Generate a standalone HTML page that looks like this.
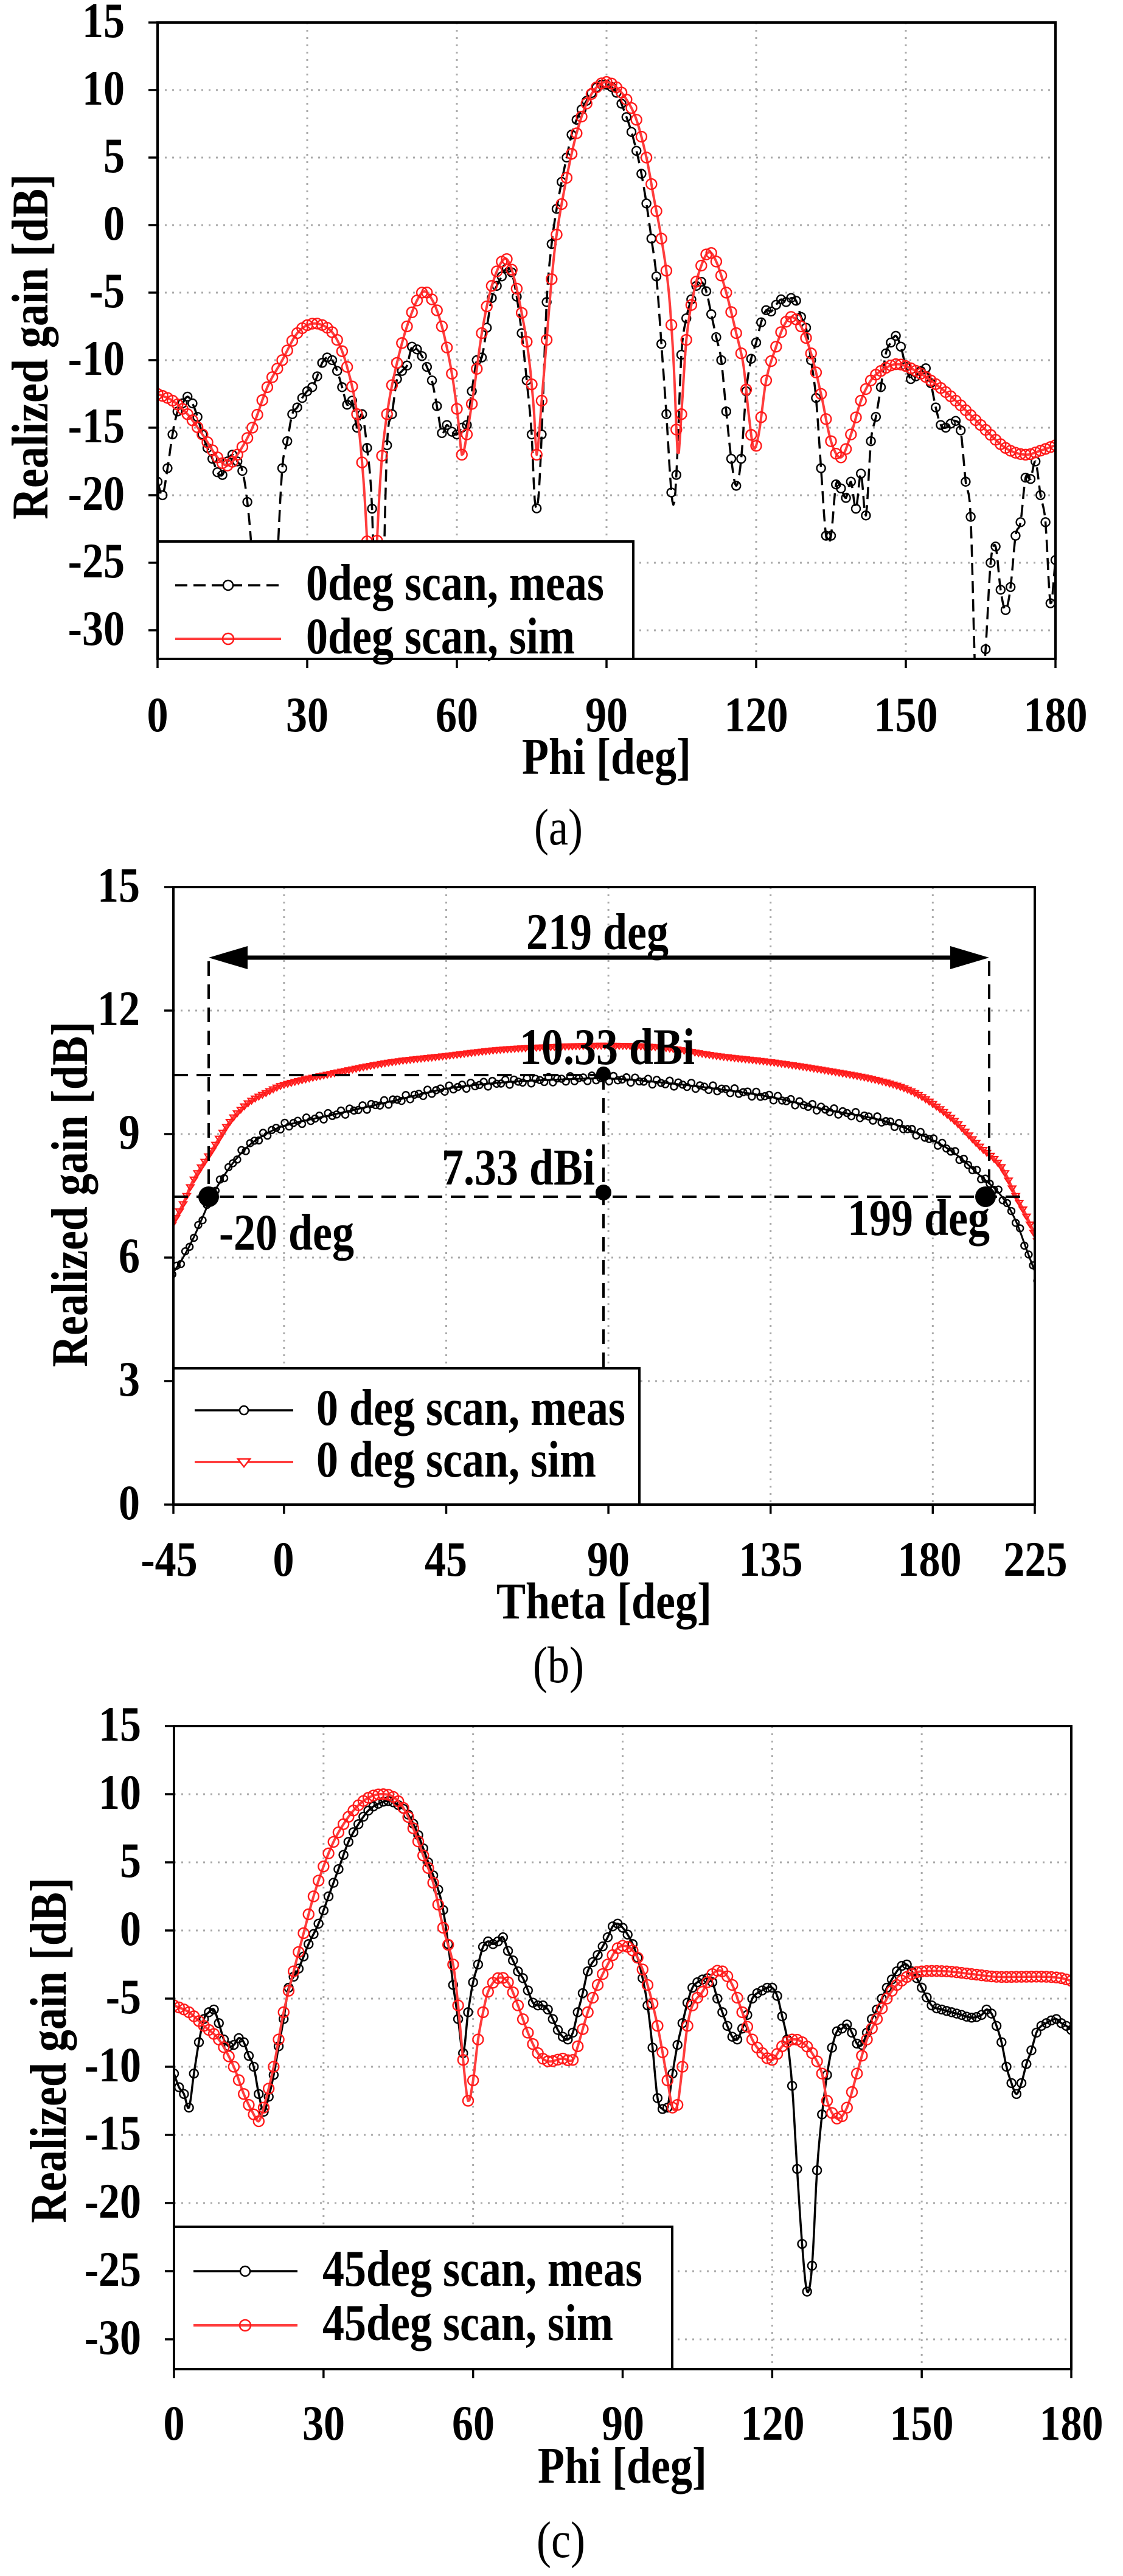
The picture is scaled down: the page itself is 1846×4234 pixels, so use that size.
<!DOCTYPE html>
<html><head><meta charset="utf-8">
<style>
html,body{margin:0;padding:0;background:#fff;}
svg{display:block;}
text{font-family:"Liberation Serif",serif;font-weight:bold;fill:#000;}
.t{font-size:70px;}
.lg{font-size:72px;}
.cap{font-weight:normal;font-size:72px;}
</style></head>
<body>
<svg id="s" width="1846" height="4234" viewBox="0 0 1846 4234" xmlns="http://www.w3.org/2000/svg">
<defs>
<clipPath id="ca"><rect x="259" y="37" width="1476" height="1046"/></clipPath>
<clipPath id="cb"><rect x="285" y="1458" width="1416" height="1015"/></clipPath>
<clipPath id="cc"><rect x="286" y="2837" width="1475" height="1057"/></clipPath>
</defs>
<g id="grid"></g>
<g id="curves"></g>
<g id="annot"></g>
<g id="frames"></g>

<!-- Chart (a) labels -->
<g class="t" text-anchor="end">
<text x="205" y="61">15</text><text x="205" y="172">10</text><text x="205" y="283">5</text>
<text x="205" y="394">0</text><text x="205" y="505">-5</text><text x="205" y="616">-10</text>
<text x="205" y="727">-15</text><text x="205" y="838">-20</text><text x="205" y="949">-25</text>
<text x="205" y="1060">-30</text>
</g>
<g class="t" text-anchor="middle">
<text x="259" y="1202">0</text><text x="505" y="1202">30</text><text x="751" y="1202">60</text>
<text x="997" y="1202">90</text><text x="1243" y="1202">120</text><text x="1489" y="1202">150</text>
<text x="1735" y="1202">180</text>
</g>
<text class="lg" x="997" y="1272" text-anchor="middle">Phi [deg]</text>
<text class="lg rot" x="78" y="570" text-anchor="middle" transform="rotate(-90 78 570)">Realized gain [dB]</text>
<text class="cap" x="918" y="1388" text-anchor="middle">(a)</text>

<!-- Chart (b) labels -->
<g class="t" text-anchor="end">
<text x="230" y="1482">15</text><text x="230" y="1685">12</text><text x="230" y="1888">9</text>
<text x="230" y="2091">6</text><text x="230" y="2294">3</text><text x="230" y="2497">0</text>
</g>
<g class="t" text-anchor="middle">
<text x="278" y="2590">-45</text><text x="466" y="2590">0</text><text x="733" y="2590">45</text>
<text x="1000" y="2590">90</text><text x="1267" y="2590">135</text><text x="1528" y="2590">180</text>
<text x="1702" y="2590">225</text>
</g>
<text class="lg" x="993" y="2660" text-anchor="middle">Theta [deg]</text>
<text class="lg rot" x="143" y="1963" text-anchor="middle" transform="rotate(-90 143 1963)">Realized gain [dB]</text>
<text class="cap" x="918" y="2765" text-anchor="middle">(b)</text>
<text class="lg" x="982" y="1560" text-anchor="middle">219 deg</text>
<text class="lg" x="998" y="1749" text-anchor="middle">10.33 dBi</text>
<text class="lg" x="978" y="1947" text-anchor="end">7.33 dBi</text>
<text class="lg" x="471" y="2054" text-anchor="middle">-20 deg</text>
<text class="lg" x="1510" y="2030" text-anchor="middle">199 deg</text>

<!-- Chart (c) labels -->
<g class="t" text-anchor="end">
<text x="232" y="2861">15</text><text x="232" y="2973">10</text><text x="232" y="3085">5</text>
<text x="232" y="3197">0</text><text x="232" y="3309">-5</text><text x="232" y="3421">-10</text>
<text x="232" y="3533">-15</text><text x="232" y="3645">-20</text><text x="232" y="3757">-25</text>
<text x="232" y="3869">-30</text>
</g>
<g class="t" text-anchor="middle">
<text x="286" y="4010">0</text><text x="532" y="4010">30</text><text x="778" y="4010">60</text>
<text x="1024" y="4010">90</text><text x="1270" y="4010">120</text><text x="1515" y="4010">150</text>
<text x="1761" y="4010">180</text>
</g>
<text class="lg" x="1023" y="4081" text-anchor="middle">Phi [deg]</text>
<text class="lg rot" x="108" y="3370" text-anchor="middle" transform="rotate(-90 108 3370)">Realized gain [dB]</text>
<text class="cap" x="922" y="4203" text-anchor="middle">(c)</text>

<!-- legends -->
<rect x="259" y="890" width="782" height="193" fill="#fff" stroke="#000" stroke-width="4"/>
<line x1="288" y1="962" x2="462" y2="962" stroke="#000" stroke-width="3.5" stroke-dasharray="20 10"/>
<circle cx="375" cy="962" r="8" fill="#fff" stroke="#000" stroke-width="2.5"/>
<line x1="288" y1="1050" x2="462" y2="1050" stroke="#ff3c3c" stroke-width="4"/>
<circle cx="375" cy="1050" r="9" fill="none" stroke="#ff1a1a" stroke-width="2.5"/>
<text class="lg" x="503" y="986">0deg scan, meas</text>
<text class="lg" x="503" y="1074">0deg scan, sim</text>

<rect x="285" y="2249" width="766" height="224" fill="#fff" stroke="#000" stroke-width="4"/>
<line x1="320" y1="2318" x2="482" y2="2318" stroke="#000" stroke-width="3.5"/>
<circle cx="401" cy="2318" r="7" fill="#fff" stroke="#000" stroke-width="2.5"/>
<line x1="320" y1="2403" x2="482" y2="2403" stroke="#ff3c3c" stroke-width="4"/>
<path d="M391,2398 L411,2398 L401,2411 Z" fill="#fff" stroke="#ff1a1a" stroke-width="2.5"/>
<text class="lg" x="520" y="2342">0 deg scan, meas</text>
<text class="lg" x="520" y="2427">0 deg scan, sim</text>

<rect x="286" y="3660" width="819" height="234" fill="#fff" stroke="#000" stroke-width="4"/>
<line x1="318" y1="3733" x2="489" y2="3733" stroke="#000" stroke-width="3.5"/>
<circle cx="403" cy="3733" r="8" fill="#fff" stroke="#000" stroke-width="2.5"/>
<line x1="318" y1="3822" x2="489" y2="3822" stroke="#ff3c3c" stroke-width="4"/>
<circle cx="403" cy="3822" r="9" fill="none" stroke="#ff1a1a" stroke-width="2.5"/>
<text class="lg" x="530" y="3757">45deg scan, meas</text>
<text class="lg" x="530" y="3846">45deg scan, sim</text>
</svg>
<script>
(function(){
var NS="http://www.w3.org/2000/svg";
// vertical stretch of all text (reference glyphs are taller)
var SY=1.17;
Array.prototype.forEach.call(document.querySelectorAll('text'),function(t){
  var x=t.getAttribute('x'),y=t.getAttribute('y');
  var pre=t.getAttribute('transform')||'';
  t.setAttribute('transform',pre+' translate('+x+' '+y+') scale(1 '+SY+') translate('+(-x)+' '+(-y)+')');
});
function el(parent,tag,attrs){var e=document.createElementNS(NS,tag);for(var k in attrs)e.setAttribute(k,attrs[k]);parent.appendChild(e);return e;}
function mk(arr){var p=[];for(var i=0;i<arr.length;i+=2)p.push([arr[i],arr[i+1]]);return p;}
function interp(P,x){
  if(x<=P[0][0])return P[0][1];var n=P.length;if(x>=P[n-1][0])return P[n-1][1];
  var i=0;while(i<n-2&&P[i+1][0]<x)i++;
  var p1=P[i],p2=P[i+1],p0=P[i-1]||p1,p3=P[i+2]||p2;
  var h=p2[0]-p1[0],t=(x-p1[0])/h;
  var m1=(p2[1]-p0[1])/(p2[0]-p0[0]||1)*h, m2=(p3[1]-p1[1])/(p3[0]-p1[0]||1)*h;
  var t2=t*t,t3=t2*t;
  return (2*t3-3*t2+1)*p1[1]+(t3-2*t2+t)*m1+(-2*t3+3*t2)*p2[1]+(t3-t2)*m2;
}
var grid=document.getElementById('grid'),cur=document.getElementById('curves'),ann=document.getElementById('annot'),fr=document.getElementById('frames');
function chart(c){
  var X=function(v){return c.L+(v-c.x0)/(c.x1-c.x0)*(c.R-c.L);};
  var Y=function(v){return c.B-(v-c.y0)/(c.y1-c.y0)*(c.B-c.T);};
  c.X=X;c.Y=Y;
  c.xt.forEach(function(v){var x=X(v);
    if(x>c.L+3&&x<c.R-3)el(grid,'line',{x1:x,y1:c.T,x2:x,y2:c.B,stroke:'#aaa','stroke-width':3,'stroke-dasharray':'3 9'});
    el(fr,'line',{x1:x,y1:c.B,x2:x,y2:c.B+15,stroke:'#000','stroke-width':3.5});});
  c.yt.forEach(function(v){var y=Y(v);
    if(y>c.T+3&&y<c.B-3)el(grid,'line',{x1:c.L,y1:y,x2:c.R,y2:y,stroke:'#aaa','stroke-width':3,'stroke-dasharray':'3 9'});
    el(fr,'line',{x1:c.L-15,y1:y,x2:c.L,y2:y,stroke:'#000','stroke-width':3.5});});
  if(c.xedge){c.xedge.forEach(function(x){el(fr,'line',{x1:x,y1:c.B,x2:x,y2:c.B+15,stroke:'#000','stroke-width':3.5});});}
  el(fr,'rect',{x:c.L,y:c.T,width:c.R-c.L,height:c.B-c.T,fill:'none',stroke:'#000','stroke-width':4});
  return c;
}
function series(c,P,o){
  var g=el(cur,'g',{'clip-path':'url(#'+c.clip+')'});
  var d='',st=o.step||0.25;
  for(var x=P[0][0];x<=P[P.length-1][0]+1e-9;x+=st){var v=interp(P,x);var yy=Math.max(Math.min(c.Y(v),c.B+200),c.T-200);d+=(d?'L':'M')+c.X(x).toFixed(1)+','+yy.toFixed(1);}
  el(g,'path',{d:d,fill:'none',stroke:o.color,'stroke-width':o.w,'stroke-dasharray':o.dash||'none','stroke-linejoin':'round'});
  for(var x=P[0][0];x<=P[P.length-1][0]+1e-9;x+=o.mstep){
    var v=interp(P,x)+(o.jit?(Math.sin(x*7.3)*o.jit):0),cx=c.X(x),cy=c.Y(v);
    if(cy<c.T-20||cy>c.B+20)continue;
    if(o.tri){var s=o.r;el(g,'path',{d:'M'+(cx-s)+','+(cy-s*0.6)+'L'+(cx+s)+','+(cy-s*0.6)+'L'+cx+','+(cy+s*0.9)+'Z',fill:'none',stroke:o.mcolor,'stroke-width':2.2});}
    else el(g,'circle',{cx:cx,cy:cy,r:o.r,fill:'none',stroke:o.mcolor,'stroke-width':2.4});
  }
}
// ---------- Chart A ----------
var A=chart({L:259,R:1735,T:37,B:1083,x0:0,x1:180,y0:-32.12,y1:15,clip:'ca',xt:[0,30,60,90,120,150,180],yt:[15,10,5,0,-5,-10,-15,-20,-25,-30]});
var aSim=mk([0,-12.5,3,-13,6,-14,9,-15.5,12,-17.2,14,-17.8,16,-17,19,-15,22,-12,25,-10,28,-8,31,-7.3,34,-7.6,36,-8.5,38,-10.5,40,-14,41.3,-19,42.2,-25,43,-33,43.8,-25,44.8,-18,46,-14,47.5,-11,50,-7.5,53,-5,55,-5.5,57,-7.5,59,-11,60.3,-14.5,61,-17,62,-15.5,63.5,-12,65,-8,67,-4.5,69.5,-2.5,71,-3.3,73,-6.5,74.5,-10,75.5,-14,76,-17,77,-13,78,-8.5,79,-4,80,-0.7,82,3.5,84,6.8,86,9,88,10.2,90,10.6,92,10.2,94,9.3,96,7.8,98,5,99.5,2,101,-1,102.5,-5,103.5,-10.5,104.3,-17,105,-14,106,-8.5,107.5,-5,109,-3,110.5,-2,112,-2.7,114,-5,116,-8,117.5,-10.5,118.5,-14,119.5,-16.5,120.5,-15.5,122,-11.5,124,-9,125.5,-7.5,127,-6.8,129,-7.5,131,-9.5,133,-12.5,135,-16,137,-17.2,139,-15.5,141,-13,143,-11.5,145,-10.8,148,-10.3,151,-10.6,155,-11.5,160,-13,165,-14.8,170,-16.5,174,-17,177,-16.7,180,-16.3]);
var aMeas=mk([0,-19,1,-20,2,-18,3,-15.5,4,-13.8,5,-13.2,6,-12.7,7,-13.2,8,-14.2,9,-15.5,10,-16.5,11,-17.3,12,-18.3,13,-18.5,14,-17.5,15,-17,16,-17.5,17,-18.2,18,-20.5,19,-25,20,-34,23,-34,24,-25,25,-18,26,-16,27,-14,28,-13.5,29,-12.8,30,-12.3,31,-12,32,-11.2,33,-10.2,34,-9.8,35,-10,36,-10.8,37,-12,38,-13.3,39,-13,40,-15,41,-14,42,-16.5,43,-21,44,-34,45,-30,46,-16.3,47,-14,48,-11.4,49,-10.8,50,-10.4,51,-9,52,-9.2,53,-9.7,54,-10.5,55,-11.5,56,-13.4,57,-15.4,58,-14.8,59,-15.3,60,-15.5,61,-15,62,-14.8,63,-12.3,64,-10,65,-9.8,66,-7.6,67,-5.4,68,-4.5,69,-3.8,70,-3.2,71,-3.5,72,-5.3,73,-8,74,-11.5,75,-15.5,75.6,-20.3,76.3,-20.4,77,-15.5,78,-5.7,79,-1.4,80,1.2,81,3.2,82,5,83,6.7,84,7.8,86,9.2,88,10.2,90,10.4,92,9.8,94,8,95,6.9,96,5.5,97,3.8,98,1.6,99,-1,100,-3.8,101,-8.8,102,-14,103,-19.8,103.6,-20.5,104.2,-17,105,-9.6,106,-6.9,107,-5.5,108,-4.5,109,-4.2,110,-4.9,111,-6.6,112,-8.3,113,-10,114,-13.8,115,-17.3,116,-19.3,117,-17.3,118,-12.3,119,-9.9,120,-8.7,121,-7.2,122,-6.3,123,-6.4,124,-5.9,125,-5.5,126,-5.7,127,-5.4,128,-5.6,129,-6.8,130,-7.6,131,-10,132,-12.8,133,-18,134,-23,135,-23,136,-19.2,137,-19.5,138,-20.2,139,-19,140,-21,141,-18.4,142,-21.5,143,-16,144,-14.2,145,-12,146,-9.5,147,-8.7,148,-8.2,149,-9,150,-10.5,151,-11.4,152,-11.2,153,-10.8,154,-10.6,155,-11.7,156,-13.5,157,-14.8,158,-15,159,-14.7,160,-14.5,161,-15.2,162,-19,163,-21.6,164,-34,165.3,-34,166,-31.4,167,-25,168,-23.8,169,-27,170,-28.5,171,-26.8,172,-23,173,-22,174,-18.7,175,-18.8,176,-17.5,177,-20,178,-22,179,-28,180,-24.8]);
series(A,aMeas,{color:'#000',w:3.5,dash:'20 10',mstep:1,r:7,mcolor:'#000',step:0.2});
series(A,aSim,{color:'#ff3c3c',w:4,mstep:1,r:8.5,mcolor:'#ff1a1a',step:0.25});
// ---------- Chart C ----------
var C=chart({L:286,R:1761,T:2837,B:3894,x0:0,x1:180,y0:-32.19,y1:15,clip:'cc',xt:[0,30,60,90,120,150,180],yt:[15,10,5,0,-5,-10,-15,-20,-25,-30]});
var cSim=mk([0,-5.5,3,-6,6,-7,9,-8,12,-10,14,-12,16,-13.5,17,-14,18,-13,20,-10,22,-6,24,-3,26,-0.2,28,2.5,30,4.7,32,6.5,34,7.8,36,8.8,38,9.5,40,9.9,42,10,44,9.8,46,9,48,7.5,50,5.5,52,3.5,54,0.2,56,-2.5,57,-5.5,58,-9.5,59,-12.5,60,-11,61,-8,62,-6,63,-4.5,65,-3.5,67,-3.8,69,-5.5,71,-7.5,73,-9,75,-9.6,78,-9.4,80,-9.5,81,-8.5,83,-6,85,-4,87,-2.5,89,-1.3,91,-1.2,93,-2,95,-4,97,-7,99,-11,100,-13,101,-12.8,102,-10,103,-7,104,-5.5,106,-4.5,108,-3.2,110,-3,112,-4,114,-6,116,-8,118,-9,120,-9.5,122,-8.5,124,-8,126,-8.2,128,-9,130,-10.5,131,-12.5,133,-13.8,135,-13,137,-10.5,139,-8,141,-6.5,143,-5,145,-4,148,-3.2,150,-3,155,-3,160,-3.2,165,-3.4,170,-3.4,175,-3.4,178,-3.5,180,-3.7]);
var cMeas=mk([0,-10.5,1,-11.5,2,-12,3,-13,4,-10.5,5,-8.2,6,-6.5,7,-6,8,-5.8,9,-6.8,10,-8,11,-8.5,12,-8.4,13,-7.9,14,-8.2,15,-9.2,16,-10,17,-12,18,-13.3,19,-12.2,20,-10.6,21,-8.5,22,-6.5,23,-4.2,25,-2.8,27,-1,29,0.5,31,2.5,33,4.5,35,6.5,37,7.8,39,8.8,41,9.3,43,9.5,45,9.2,47,8.5,49,7,51,5,53,3,54,1.5,55,-1,56,-4,57,-6.5,58,-9,59,-6,60,-3.8,61,-2.5,62,-1.2,63,-0.8,64,-1,65,-0.8,66,-0.5,67,-1.5,68,-2.2,69,-3,70,-3.5,71,-4.4,72,-5.3,73,-5.5,74,-5.5,75,-5.8,76,-6.5,77,-7.3,78,-7.8,79,-8,80,-7.5,81,-6,82,-4.6,83,-3,85,-1.8,87,-0.5,88,0.3,89,0.5,90,0.2,91,-0.3,92,-1,93,-2,94,-3.5,95,-5.5,96,-8.6,97,-12.3,98,-13.1,99,-13,100,-10.5,101,-8.4,102,-6.8,103,-5.3,104,-4.2,105,-3.8,106,-3.6,107,-3.5,108,-3.8,109,-5,110,-6,111,-7,112,-7.8,113,-8,114,-7.2,115,-6.2,116,-5,117,-4.6,118,-4.4,119,-4.2,120,-4.2,121,-4.8,122,-6.3,123,-8,124,-11.4,125,-17.5,126,-23,127,-26.5,128,-24.6,129,-17.6,130,-13.5,131,-10.6,132,-8.6,133,-7.4,134,-7.2,135,-6.9,136,-7.5,137,-8.3,138,-8.4,139,-7.5,140,-6.5,141,-5.8,142,-5,143,-4.2,144,-3.6,145,-3,146,-2.6,147,-2.5,148,-3,149,-3.5,150,-4.2,152,-5.5,154,-5.8,156,-6,158,-6.2,160,-6.4,162,-6.2,163,-5.8,164,-6.1,165,-7,166,-8.2,167,-10,168,-11.2,169,-12,170,-11.2,171,-9.8,172,-8.8,173,-7.5,174,-7,175,-6.8,176,-6.6,177,-6.5,178,-6.8,179,-7,180,-7.3]);
series(C,cMeas,{color:'#000',w:3.5,mstep:1,r:7,mcolor:'#000',step:0.2});
series(C,cSim,{color:'#ff3c3c',w:4,mstep:1,r:8.5,mcolor:'#ff1a1a',step:0.25});
// ---------- Chart B ----------
var B=chart({L:285,R:1701,T:1458,B:2473,x0:-30.7,x1:208.3,y0:0,y1:15,clip:'cb',xt:[0,45,90,135,180],yt:[15,12,9,6,3,0],xedge:[285,1701]});
var bMeas=mk([-31,5.6,-28,6.0,-25,6.5,-22,7.1,-20,7.5,-15,8.2,-10,8.7,-5,9.0,0,9.2,15,9.5,30,9.8,45,10.1,60,10.25,75,10.32,90,10.35,105,10.25,120,10.1,135,9.9,150,9.6,165,9.35,175,9.05,185,8.6,193,8.0,199,7.5,203,6.9,206,6.2,209,5.5]);
var bSim=mk([-31,6.8,-28,7.3,-25,7.9,-20,8.6,-15,9.3,-10,9.75,-5,10.0,0,10.2,15,10.5,30,10.75,45,10.9,60,11.05,75,11.12,90,11.15,105,11.1,120,10.9,135,10.75,150,10.55,165,10.3,175,10.0,185,9.4,193,8.7,199,8.2,203,7.5,206,7.0,209,6.4]);
series(B,bSim,{color:'#ff3c3c',w:5,mstep:1,r:6,tri:true,mcolor:'#ff1a1a',step:0.5});
series(B,bMeas,{color:'#000',w:3,mstep:1.2,r:5.5,mcolor:'#000',step:0.5,jit:0.07});
// annotations
var dl={stroke:'#000','stroke-width':4,'stroke-dasharray':'24 14'};
function L2(x1,y1,x2,y2,o){var a={x1:x1,y1:y1,x2:x2,y2:y2};for(var k in o)a[k]=o[k];el(ann,'line',a);}
L2(285,1767,992,1767,dl);
L2(285,1967,1680,1967,dl);
L2(992,1767,992,2473,dl);
L2(343,1580,343,1967,dl);
L2(1626,1580,1626,1967,dl);
L2(395,1574,1574,1574,{stroke:'#000','stroke-width':7});
el(ann,'path',{d:'M343,1574 L407,1555 L407,1593 Z',fill:'#000'});
el(ann,'path',{d:'M1626,1574 L1562,1555 L1562,1593 Z',fill:'#000'});
el(ann,'circle',{cx:343,cy:1967,r:17,fill:'#000'});
el(ann,'circle',{cx:1620,cy:1967,r:17,fill:'#000'});
el(ann,'circle',{cx:992,cy:1765,r:12,fill:'#000'});
el(ann,'circle',{cx:992,cy:1960,r:13,fill:'#000'});
})();
</script>
</body></html>
